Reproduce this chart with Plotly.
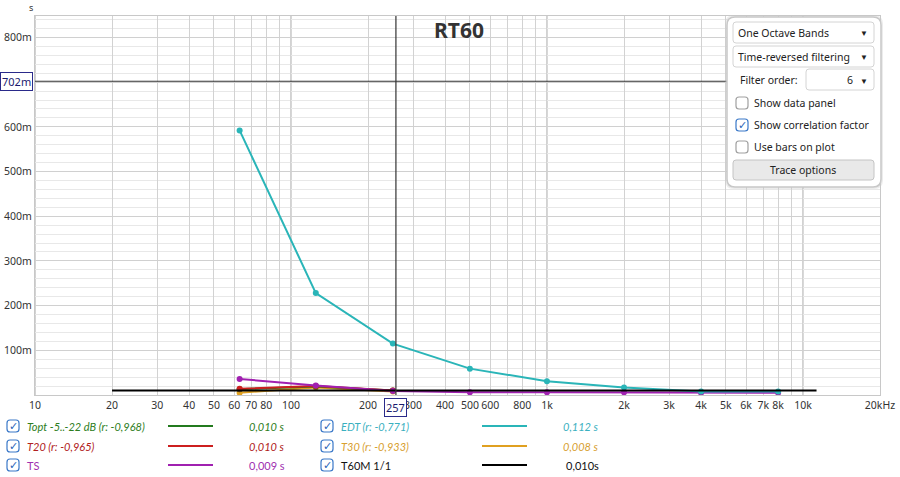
import math
import plotly.graph_objects as go

# ---------------- data ----------------
bands = [63, 125, 250, 500, 1000, 2000, 4000, 8000]
edt = [0.592, 0.228, 0.115, 0.059, 0.031, 0.017, 0.008, 0.008]
ts = [0.036, 0.021, 0.009, 0.006, 0.006, 0.006, 0.005, 0.005]
short_bands = [63, 125, 250]
topt = [0.013, 0.019, 0.010]
t20 = [0.014, 0.020, 0.010]
t30 = [0.005, 0.017, 0.008]
t60m_x = [20, 11300]
t60m = [0.010, 0.010]

x_tick_vals = [10, 20, 30, 40, 50, 60, 70, 80, 90, 100, 200, 300, 400, 500, 600, 700, 800, 900,
               1000, 2000, 3000, 4000, 5000, 6000, 7000, 8000, 9000, 10000, 20000]
x_tick_text = ["10", "20", "30", "40", "50", "60", "70", "80", "", "100", "200", "300", "400", "500",
               "600", "", "800", "", "1k", "2k", "3k", "4k", "5k", "6k", "7k", "8k", "", "10k", "20kHz"]
decades = [10, 100, 1000, 10000]
y_tick_vals = [0.1, 0.2, 0.3, 0.4, 0.5, 0.6, 0.7, 0.8]
y_tick_text = ["100m", "200m", "300m", "400m", "500m", "600m", "", "800m"]

cursor_x = 257
cursor_y = 0.702

legend_rows = [
    # (label, text colour, value, column, italic)
    ("Topt -5..-22 dB (r: -0,968)", "#2e7d22", "0,010 s", 0, True),
    ("T20 (r: -0,965)", "#b02020", "0,010 s", 0, True),
    ("TS", "#a030b0", "0,009 s", 0, False),
    ("EDT (r: -0,771)", "#3ab0c0", "0,112 s", 1, True),
    ("T30 (r: -0,933)", "#d8a030", "0,008 s", 1, True),
    ("T60M 1/1", "#111111", "0,010s", 1, False),
]
line_colors = {"Topt": "#237a1e", "T20": "#cc1f1f", "TS": "#a020b0", "EDT": "#2ab5b8",
               "T30": "#e0a020", "T60M": "#000000"}

# ---------------- geometry helpers (pixel -> paper) ----------------
W, H = 900, 477
L, R, T, B = 35, 880, 16, 395
PW, PH = R - L, B - T


def px(x):
    return (x - L) / PW


def py(y):
    return (B - y) / PH


FONT = "Noto Sans"
LEG_FONT = "Lato"

fig = go.Figure()


def add_series(x, y, name, color, width=2, mode="lines+markers"):
    fig.add_trace(go.Scatter(x=x, y=y, name=name, mode=mode,
                             line=dict(color=color, width=width),
                             marker=dict(color=color, size=6),
                             showlegend=False, hoverinfo="skip"))


add_series(short_bands, t30, "T30", line_colors["T30"])
add_series(short_bands, topt, "Topt", line_colors["Topt"])
add_series(short_bands, t20, "T20", line_colors["T20"])
add_series(bands, ts, "TS", line_colors["TS"])
add_series(bands, edt, "EDT", line_colors["EDT"])
add_series(t60m_x, t60m, "T60M", line_colors["T60M"], width=2, mode="lines")

shapes = []
annotations = []

# decade grid lines (darker)
for d in decades:
    shapes.append(dict(type="line", xref="x", yref="paper", x0=d, x1=d, y0=0, y1=1,
                       line=dict(color="#a8a8a8", width=1), layer="below"))

# cursor crosshair
shapes.append(dict(type="line", xref="x", yref="paper", x0=cursor_x, x1=cursor_x, y0=0, y1=1,
                   line=dict(color="#333333", width=1.2)))
shapes.append(dict(type="line", xref="paper", yref="y", x0=0, x1=1, y0=cursor_y, y1=cursor_y,
                   line=dict(color="#333333", width=1.2)))

# cursor value boxes
annotations.append(dict(xref="paper", yref="y", x=px(33), y=cursor_y, xanchor="right", yanchor="middle",
                        text="702m", showarrow=False, font=dict(family=FONT, size=11, color="#1a1a6e"),
                        bgcolor="white", bordercolor="#2a2a8a", borderwidth=1, borderpad=1))
annotations.append(dict(xref="x", yref="paper", x=math.log10(cursor_x), y=py(398), xanchor="center",
                        yanchor="top", text="257", showarrow=False,
                        font=dict(family=FONT, size=11, color="#1a1a6e"),
                        bgcolor="white", bordercolor="#2a2a8a", borderwidth=1, borderpad=1))

# title and unit
annotations.append(dict(xref="paper", yref="paper", x=px(459), y=py(30), text="<b>RT60</b>",
                        showarrow=False, font=dict(family=FONT, size=21, color="#333333"),
                        xanchor="center", yanchor="middle"))
annotations.append(dict(xref="paper", yref="paper", x=px(31), y=py(7), text="s",
                        showarrow=False, font=dict(family=FONT, size=9, color="#333333"),
                        xanchor="center", yanchor="middle"))


def rounded_rect(x0, y0, x1, y1, r, fill, line, width=1):
    path = (f"M {px(x0 + r)},{py(y0)} L {px(x1 - r)},{py(y0)} "
            f"Q {px(x1)},{py(y0)} {px(x1)},{py(y0 + r)} L {px(x1)},{py(y1 - r)} "
            f"Q {px(x1)},{py(y1)} {px(x1 - r)},{py(y1)} L {px(x0 + r)},{py(y1)} "
            f"Q {px(x0)},{py(y1)} {px(x0)},{py(y1 - r)} L {px(x0)},{py(y0 + r)} "
            f"Q {px(x0)},{py(y0)} {px(x0 + r)},{py(y0)} Z")
    shapes.append(dict(type="path", xref="paper", yref="paper", path=path,
                       fillcolor=fill, line=dict(color=line, width=width)))


def checkbox(cx, cy, checked):
    s = 6
    rounded_rect(cx - s, cy - s, cx + s, cy + s, 3, "white", "#3a78c8" if checked else "#a0a0a0", 1.2)
    if checked:
        annotations.append(dict(xref="paper", yref="paper", x=px(cx), y=py(cy + 0.5), text="✓",
                                showarrow=False, font=dict(family="DejaVu Sans", size=11, color="#2a64b8"),
                                xanchor="center", yanchor="middle"))


def text(x, y, t, size=11, color="#222222", anchor="left", family=FONT):
    annotations.append(dict(xref="paper", yref="paper", x=px(x), y=py(y), text=t, showarrow=False,
                            font=dict(family=family, size=size, color=color),
                            xanchor=anchor, yanchor="middle"))


# ---------------- options panel ----------------
rounded_rect(725, 15, 883, 189, 9, "rgba(200,200,200,0.35)", "rgba(0,0,0,0)")
rounded_rect(727, 17, 881, 187, 8, "white", "#c8c8c8", 1.5)
for (y0, y1, label) in [(22, 43, "One Octave Bands"), (46, 67, "Time-reversed filtering")]:
    rounded_rect(733, y0, 874, y1, 3, "white", "#d4d4d4")
    text(736, (y0 + y1) / 2, label, size=10.5)
    text(870, (y0 + y1) / 2, "▼", size=8, anchor="right")
text(738, 80, "Filter order:", size=10.5)
rounded_rect(806, 69, 874, 90, 3, "white", "#d4d4d4")
text(855, 80, "6", size=10.5, anchor="right")
text(870, 80, "▼", size=8, anchor="right")
for (y, label, chk) in [(103, "Show data panel", False), (125, "Show correlation factor", True),
                        (147, "Use bars on plot", False)]:
    checkbox(742, y, chk)
    text(752, y, label, size=10.5)
rounded_rect(733, 160, 874, 180, 3, "#e9e9e9", "#c4c4c4")
text(803, 170, "Trace options", size=10.5, anchor="center")

# ---------------- bottom legend ----------------
row_y = [426, 446, 465]
col_x = [(13, 25, 168, 213, 287), (327, 339, 482, 527, 601)]
row_counter = [0, 0]
for label, tcol, val, col, italic in legend_rows:
    r = row_counter[col]
    row_counter[col] += 1
    cbx, tx, lx0, lx1, vx = col_x[col]
    y = row_y[r]
    key = label.split(" ")[0]
    checkbox(cbx, y, True)
    lab = f"<i>{label}</i>" if italic else label
    text(tx, y, lab, size=11, color=tcol, family=LEG_FONT)
    shapes.append(dict(type="line", xref="paper", yref="paper", x0=px(lx0), x1=px(lx1), y0=py(y), y1=py(y),
                       line=dict(color=line_colors[key], width=2)))
    vt = f"<i>{val}</i>" if italic else val
    text(vx, y, vt, size=11, color=tcol, anchor="right", family=LEG_FONT)

fig.update_layout(
    width=W, height=H,
    margin=dict(l=L, r=W - R, t=T, b=H - B, autoexpand=False),
    paper_bgcolor="white", plot_bgcolor="white",
    shapes=shapes, annotations=annotations,
    font=dict(family=FONT, size=11, color="#333333"),
    xaxis=dict(type="log", range=[1, math.log10(20000)], tickmode="array",
               tickvals=x_tick_vals, ticktext=x_tick_text, showgrid=True, gridcolor="#d2d2d2",
               gridwidth=1, zeroline=False, showline=True, linecolor="#c8c8c8", mirror=True,
               ticks="", tickangle=0, automargin=False,
               tickfont=dict(family=FONT, size=10.5, color="#333333")),
    yaxis=dict(range=[0.0, 0.848], tickmode="array", tickvals=y_tick_vals, ticktext=y_tick_text,
               showgrid=True, gridcolor="#d0d0d0", zeroline=False, showline=True, linecolor="#c8c8c8",
               mirror=True, ticks="", automargin=False,
               tickfont=dict(family=FONT, size=10.5, color="#333333"),
               minor=dict(dtick=0.02, tick0=0, showgrid=True, gridcolor="#e8e8e8")),
)

fig.write_html("out.html", config={"displayModeBar": False},
               post_script="document.body.style.margin='0';document.body.style.overflow='hidden';")
